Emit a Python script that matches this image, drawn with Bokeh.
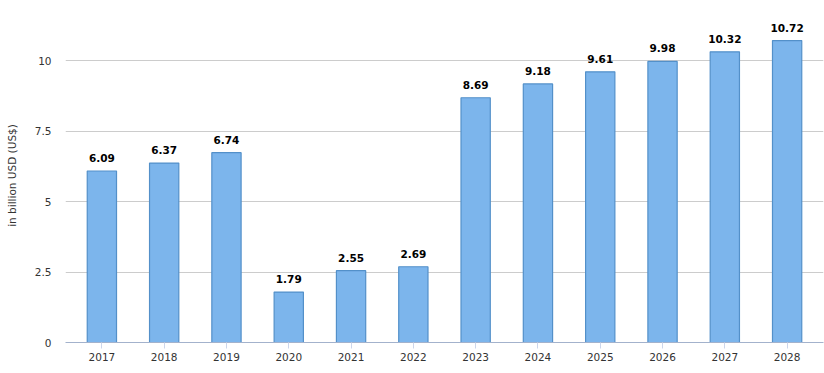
from bokeh.plotting import figure
from bokeh.models import ColumnDataSource, FactorRange, Range1d, FixedTicker, LabelSet
from bokeh.core.properties import value
from bokeh.embed import file_html
from bokeh.resources import INLINE

years = ["2017", "2018", "2019", "2020", "2021", "2022", "2023", "2024", "2025", "2026", "2027", "2028"]
values = [6.09, 6.37, 6.74, 1.79, 2.55, 2.69, 8.69, 9.18, 9.61, 9.98, 10.32, 10.72]
value_labels = ["6.09", "6.37", "6.74", "1.79", "2.55", "2.69", "8.69", "9.18", "9.61", "9.98", "10.32", "10.72"]
y_ticks = [0, 2.5, 5, 7.5, 10]
y_tick_labels = ["0", "2.5", "5", "7.5", "10"]
y_title = "in billion USD (US$)"

src = ColumnDataSource(dict(x=years, top=values, label=value_labels))

p = figure(
    width=824, height=373,
    x_range=FactorRange(*years, range_padding=0.014, range_padding_units="percent"),
    y_range=Range1d(0, 11.86),
    output_backend="svg", toolbar_location=None,
    min_border_left=65, min_border_right=1, min_border_top=8, min_border_bottom=31,
)
p.outline_line_color = None
p.background_fill_color = "white"
p.border_fill_color = "white"

p.vbar(x="x", top="top", width=0.47, source=src,
       fill_color="#7cb5ec", line_color="#5390c9", line_width=1.2)

labels = LabelSet(x="x", y="top", text="label", source=src,
                  text_align="center", text_baseline="alphabetic", y_offset=9,
                  text_font=value("DejaVu Sans"), text_font_style="bold",
                  text_font_size=value("10.5px"), text_color="#000000")
p.add_layout(labels)

# y axis
p.yaxis.ticker = FixedTicker(ticks=y_ticks)
p.yaxis.major_label_overrides = {t: l for t, l in zip(y_ticks, y_tick_labels)}
p.yaxis.axis_line_color = None
p.yaxis.major_tick_line_color = None
p.yaxis.major_tick_in = 0
p.yaxis.major_tick_out = 0
p.yaxis.minor_tick_line_color = None
p.yaxis.minor_tick_in = 0
p.yaxis.minor_tick_out = 0
p.yaxis.major_label_standoff = 14
p.yaxis.major_label_text_font = "DejaVu Sans"
p.yaxis.major_label_text_font_size = "10.5px"
p.yaxis.major_label_text_color = "#333333"
p.yaxis.axis_label = y_title
p.yaxis.axis_label_text_font = "DejaVu Sans"
p.yaxis.axis_label_text_font_size = "10.5px"
p.yaxis.axis_label_text_font_style = "normal"
p.yaxis.axis_label_text_color = "#333333"
p.yaxis.axis_label_standoff = 14

# x axis
p.xaxis.axis_line_color = "#a3b2cc"
p.xaxis.axis_line_width = 1
p.xaxis.major_tick_line_color = "#ccd6eb"
p.xaxis.major_tick_in = 0
p.xaxis.major_tick_out = 6
p.xaxis.minor_tick_line_color = None
p.xaxis.major_label_standoff = 4
p.xaxis.major_label_text_font = "DejaVu Sans"
p.xaxis.major_label_text_font_size = "10.5px"
p.xaxis.major_label_text_color = "#333333"

p.xgrid.grid_line_color = None
p.ygrid.grid_line_color = "#cccccc"
p.ygrid.grid_line_width = 1

open("out.html", "w").write(file_html(p, INLINE))
